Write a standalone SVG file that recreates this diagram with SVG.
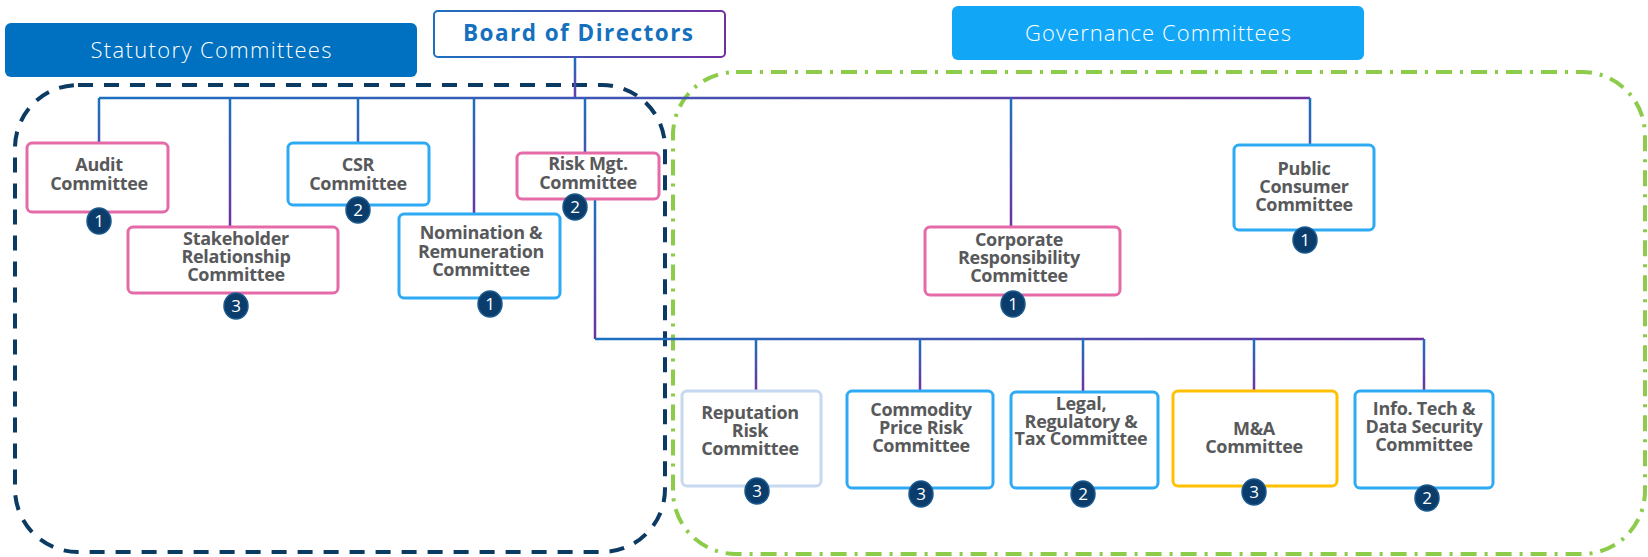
<svg xmlns="http://www.w3.org/2000/svg" width="1648" height="557" viewBox="0 0 1648 557">
  <defs>
    <linearGradient id="busTop" gradientUnits="userSpaceOnUse" x1="99" y1="0" x2="1310" y2="0">
      <stop offset="0" stop-color="#1C70C0"/>
      <stop offset="1" stop-color="#7030A0"/>
    </linearGradient>
    <linearGradient id="busLow" gradientUnits="userSpaceOnUse" x1="595" y1="0" x2="1424" y2="0">
      <stop offset="0" stop-color="#1C70C0"/>
      <stop offset="1" stop-color="#7030A0"/>
    </linearGradient>
    <linearGradient id="dropTop" gradientUnits="userSpaceOnUse" x1="0" y1="98" x2="0" y2="228">
      <stop offset="0" stop-color="#1C70C0"/>
      <stop offset="1" stop-color="#7030A0"/>
    </linearGradient>
    <linearGradient id="dropBoard" gradientUnits="userSpaceOnUse" x1="0" y1="58" x2="0" y2="98">
      <stop offset="0" stop-color="#1C70C0"/>
      <stop offset="1" stop-color="#6A3AA8"/>
    </linearGradient>
    <linearGradient id="dropRisk" gradientUnits="userSpaceOnUse" x1="0" y1="199" x2="0" y2="339">
      <stop offset="0" stop-color="#1C70C0"/>
      <stop offset="1" stop-color="#7030A0"/>
    </linearGradient>
    <linearGradient id="dropLow" gradientUnits="userSpaceOnUse" x1="0" y1="339" x2="0" y2="391">
      <stop offset="0" stop-color="#1C70C0"/>
      <stop offset="1" stop-color="#7030A0"/>
    </linearGradient>
    <linearGradient id="boardEdge" x1="0" y1="0" x2="1" y2="0">
      <stop offset="0" stop-color="#1C70C0"/>
      <stop offset="1" stop-color="#7030A0"/>
    </linearGradient>
    <style>
      .hdr { font-family: "Open Sans", "Liberation Sans", sans-serif; font-weight: 300; font-size: 22px; fill: #ffffff; text-anchor: middle; }
      .node rect { fill: #ffffff; stroke-width: 3; }
      .pink { stroke: #E46AA8; }
      .blue { stroke: #2EAAF5; }
      .pale { stroke: #C6D9F1; }
      .gold { stroke: #FFC000; }
      .lbl { font-family: "Open Sans", "Liberation Sans", sans-serif; font-weight: 700; font-size: 18px; fill: #58595B; text-anchor: middle; letter-spacing: -0.3px; }
      .badge ellipse { fill: #0A3D6B; stroke: #1B5A8E; stroke-width: 1.5; }
      .badge text { font-family: "Open Sans", "Liberation Sans", sans-serif; font-size: 17px; fill: #ffffff; text-anchor: middle; }
      .wire { fill: none; stroke-width: 2.5; }
    </style>
  </defs>

  <!-- grouping outlines -->
  <g id="regions">
    <rect x="15" y="85" width="650" height="467" rx="63" fill="none" stroke="#0B3A63" stroke-width="4" stroke-dasharray="15 11"/>
    <rect x="673" y="72" width="972" height="482" rx="63" fill="none" stroke="#8DCB4A" stroke-width="4" stroke-dasharray="16 8 3 8"/>
  </g>

  <!-- headers -->
  <g id="statutory-header">
    <rect x="5" y="23" width="412" height="54" rx="6" fill="#0070C0"/>
    <text class="hdr" x="211" y="58" textLength="241">Statutory Committees</text>
  </g>
  <g id="governance-header">
    <rect x="952" y="6" width="412" height="54" rx="6" fill="#12A6F6"/>
    <text class="hdr" x="1158" y="41" textLength="266">Governance Committees</text>
  </g>

  <!-- connectors -->
  <g id="connectors">
    <path class="wire" stroke="url(#dropBoard)" d="M575 58 V98"/>
    <path class="wire" stroke="url(#busTop)" d="M99 98 H1310"/>
    <path class="wire" stroke="url(#dropTop)" d="M99 98 V143 M230 98 V227 M358 98 V143 M474 98 V214 M585 98 V153 M1011 98 V227 M1310 98 V145"/>
    <path class="wire" stroke="url(#dropRisk)" d="M595 199 V339"/>
    <path class="wire" stroke="url(#busLow)" d="M595 339 H1424"/>
    <path class="wire" stroke="url(#dropLow)" d="M756 339 V391 M920 339 V391 M1083 339 V391 M1254 339 V391 M1424 339 V391"/>
  </g>

  <!-- board -->
  <g id="board">
    <rect x="434" y="11" width="291" height="46" rx="4" fill="#ffffff" stroke="url(#boardEdge)" stroke-width="2"/>
    <text x="578" y="41" font-family="'Open Sans', 'Liberation Sans', sans-serif" font-weight="700" font-size="22.5" fill="#1570BE" text-anchor="middle" textLength="230">Board of Directors</text>
  </g>

  <!-- statutory committees -->
  <g id="audit" class="node">
    <rect class="pink" x="27" y="143" width="141" height="69" rx="5"/>
    <text class="lbl"><tspan x="99" y="171">Audit</tspan><tspan x="99" y="190">Committee</tspan></text>
    <g class="badge"><ellipse cx="99" cy="221" rx="12" ry="13"/><text x="99" y="227">1</text></g>
  </g>
  <g id="stakeholder" class="node">
    <rect class="pink" x="128" y="227" width="210" height="66" rx="5"/>
    <text class="lbl"><tspan x="236" y="245">Stakeholder</tspan><tspan x="236" y="263">Relationship</tspan><tspan x="236" y="281">Committee</tspan></text>
    <g class="badge"><ellipse cx="236" cy="306" rx="12" ry="13"/><text x="236" y="312">3</text></g>
  </g>
  <g id="csr" class="node">
    <rect class="blue" x="288" y="143" width="141" height="62" rx="5"/>
    <text class="lbl"><tspan x="358" y="171">CSR</tspan><tspan x="358" y="190">Committee</tspan></text>
    <g class="badge"><ellipse cx="358" cy="210" rx="12" ry="13"/><text x="358" y="216">2</text></g>
  </g>
  <g id="nomination" class="node">
    <rect class="blue" x="399" y="214" width="161" height="84" rx="5"/>
    <text class="lbl"><tspan x="481" y="239">Nomination &amp;</tspan><tspan x="481" y="258">Remuneration</tspan><tspan x="481" y="276">Committee</tspan></text>
    <g class="badge"><ellipse cx="490" cy="304" rx="12" ry="13"/><text x="490" y="310">1</text></g>
  </g>
  <g id="risk" class="node">
    <rect class="pink" x="517" y="153" width="142" height="46" rx="5"/>
    <text class="lbl"><tspan x="588" y="170">Risk Mgt.</tspan><tspan x="588" y="189">Committee</tspan></text>
    <g class="badge"><ellipse cx="575" cy="207" rx="12" ry="13"/><text x="575" y="213">2</text></g>
  </g>

  <!-- governance committees -->
  <g id="corporate" class="node">
    <rect class="pink" x="925" y="227" width="195" height="68" rx="5"/>
    <text class="lbl"><tspan x="1019" y="246">Corporate</tspan><tspan x="1019" y="264">Responsibility</tspan><tspan x="1019" y="282">Committee</tspan></text>
    <g class="badge"><ellipse cx="1013" cy="304" rx="12" ry="13"/><text x="1013" y="310">1</text></g>
  </g>
  <g id="public" class="node">
    <rect class="blue" x="1234" y="145" width="140" height="85" rx="5"/>
    <text class="lbl"><tspan x="1304" y="175">Public</tspan><tspan x="1304" y="193">Consumer</tspan><tspan x="1304" y="211">Committee</tspan></text>
    <g class="badge"><ellipse cx="1305" cy="240" rx="12" ry="13"/><text x="1305" y="246">1</text></g>
  </g>
  <g id="reputation" class="node">
    <rect class="pale" x="682" y="391" width="139" height="95" rx="5"/>
    <text class="lbl"><tspan x="750" y="419">Reputation</tspan><tspan x="750" y="437">Risk</tspan><tspan x="750" y="455">Committee</tspan></text>
    <g class="badge"><ellipse cx="757" cy="491" rx="12" ry="13"/><text x="757" y="497">3</text></g>
  </g>
  <g id="commodity" class="node">
    <rect class="blue" x="847" y="391" width="146" height="97" rx="5"/>
    <text class="lbl"><tspan x="921" y="416">Commodity</tspan><tspan x="921" y="434">Price Risk</tspan><tspan x="921" y="452">Committee</tspan></text>
    <g class="badge"><ellipse cx="921" cy="494" rx="12" ry="13"/><text x="921" y="500">3</text></g>
  </g>
  <g id="legal" class="node">
    <rect class="blue" x="1011" y="392" width="147" height="96" rx="5"/>
    <text class="lbl"><tspan x="1081" y="410">Legal,</tspan><tspan x="1081" y="428">Regulatory &amp;</tspan><tspan x="1081" y="445">Tax Committee</tspan></text>
    <g class="badge"><ellipse cx="1083" cy="494" rx="12" ry="13"/><text x="1083" y="500">2</text></g>
  </g>
  <g id="mna" class="node">
    <rect class="gold" x="1173" y="391" width="164" height="95" rx="5"/>
    <text class="lbl"><tspan x="1254" y="435">M&amp;A</tspan><tspan x="1254" y="453">Committee</tspan></text>
    <g class="badge"><ellipse cx="1254" cy="492" rx="12" ry="13"/><text x="1254" y="498">3</text></g>
  </g>
  <g id="infotech" class="node">
    <rect class="blue" x="1355" y="391" width="138" height="97" rx="5"/>
    <text class="lbl"><tspan x="1424" y="415">Info. Tech &amp;</tspan><tspan x="1424" y="433">Data Security</tspan><tspan x="1424" y="451">Committee</tspan></text>
    <g class="badge"><ellipse cx="1427" cy="498" rx="12" ry="13"/><text x="1427" y="504">2</text></g>
  </g>
</svg>
